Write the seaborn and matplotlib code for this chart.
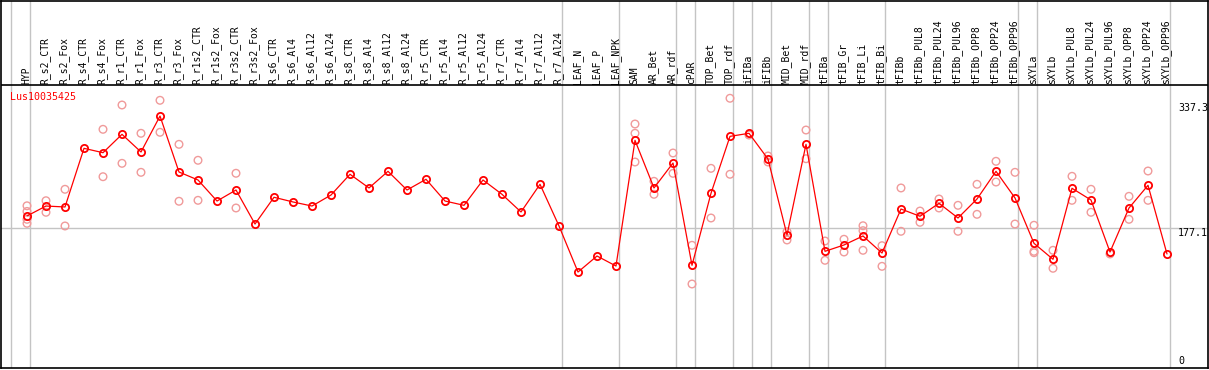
import numpy as np
import pandas as pd
import matplotlib
matplotlib.use("Agg")
import matplotlib.pyplot as plt
import seaborn as sns

gene = "Lus10035425"

samples = [
    "HYP", "R_s2_CTR", "R_s2_Fox", "R_s4_CTR", "R_s4_Fox", "R_r1_CTR", "R_r1_Fox",
    "R_r3_CTR", "R_r3_Fox", "R_r1s2_CTR", "R_r1s2_Fox", "R_r3s2_CTR", "R_r3s2_Fox",
    "R_s6_CTR", "R_s6_Al4", "R_s6_Al12", "R_s6_Al24", "R_s8_CTR", "R_s8_Al4",
    "R_s8_Al12", "R_s8_Al24", "R_r5_CTR", "R_r5_Al4", "R_r5_Al12", "R_r5_Al24",
    "R_r7_CTR", "R_r7_Al4", "R_r7_Al12", "R_r7_Al24", "LEAF_N", "LEAF_P", "LEAF_NPK",
    "SAM", "AR_Bet", "AR_rdf", "cPAR", "TOP_Bet", "TOP_rdf", "iFIBa", "iFIBb",
    "MID_Bet", "MID_rdf", "tFIBa", "tFIB_Gr", "tFIB_Li", "tFIB_Bi", "tFIBb",
    "tFIBb_PUL8", "tFIBb_PUL24", "tFIBb_PUL96", "tFIBb_OPP8", "tFIBb_OPP24",
    "tFIBb_OPP96", "sXYLa", "sXYLb", "sXYLb_PUL8", "sXYLb_PUL24", "sXYLb_PUL96",
    "sXYLb_OPP8", "sXYLb_OPP24", "sXYLb_OPP96",
]

means = [
    192.5, 205.2, 204.0, 279.0, 273.4, 296.9, 274.3, 320.3, 248.7, 238.5, 211.6,
    225.7, 182.2, 216.4, 210.4, 205.2, 219.3, 245.8, 228.3, 249.6, 225.7, 239.4,
    211.6, 206.1, 238.5, 220.2, 197.6, 233.0, 179.7, 120.8, 141.3, 128.5, 289.2,
    228.3, 260.2, 129.4, 221.5, 294.3, 298.2, 265.3, 168.2, 284.1, 147.3, 155.4,
    166.9, 145.1, 201.4, 192.1, 208.7, 189.9, 214.2, 249.6, 215.5, 157.5, 137.1,
    227.9, 212.9, 146.4, 202.7, 231.7, 143.9,
]

replicates = [
    [205.5, 198.3, 188.2, 183.1], [212.0, 197.2], [226.6, 179.7], [], [303.3, 242.7],
    [334.4, 259.8], [298.2, 248.3], [340.4, 299.5], [284.1, 211.3], [263.7, 212.5],
    [], [247.1, 202.7], [], [], [], [], [], [], [], [], [], [], [], [], [], [], [],
    [], [], [], [], [], [310.1, 298.2, 261.5], [236.8, 220.2], [273.0, 247.0],
    [155.0, 105.5], [253.4, 189.9], [343.0, 245.8], [296.0], [269.2, 261.5],
    [172.4, 161.8], [302.4, 265.7], [160.5, 135.8], [162.7, 146.4],
    [180.0, 173.7, 148.6], [154.5, 128.1], [228.3, 172.9], [198.8, 184.4],
    [214.2, 202.7], [206.1, 172.9], [233.0, 194.6], [262.4, 235.9], [248.3, 182.2],
    [180.6, 147.3, 145.5], [148.6, 125.6], [243.2, 212.5], [226.6, 197.2], [143.9],
    [217.6, 188.2], [250.0, 212.5], [],
]

# number of samples preceding each grey separator line
group_breaks = [0, 1, 29, 32, 35, 36, 38, 39, 40, 42, 43, 46, 53, 54, 61]
ytick_values = [0, 177.1, 337.3]
ytick_labels = ["0", "177.1", "337.3"]

mean_df = pd.DataFrame({"idx": np.arange(len(samples)), "value": means})
rep_idx, rep_val = [], []
for i, reps in enumerate(replicates):
    for v in reps:
        rep_idx.append(i)
        rep_val.append(v)
rep_df = pd.DataFrame({"idx": rep_idx, "value": rep_val})

sns.set_theme(style="white")
plt.rcParams["font.family"] = ["DejaVu Sans Mono"]

W, H = 1209, 370
fig = plt.figure(figsize=(W / 100, H / 100), dpi=100)
ax = fig.add_axes([1 / W, (H - 368) / H, (1208 - 1) / W, (368 - 0.5) / H])

x0px, dxpx = 27.0, 19.0
y0px, kpx = 366.5, 0.782


def px2x(px):
    return (px - x0px) / dxpx


def px2y(py):
    return (y0px - py) / kpx


ax.set_xlim(px2x(1), px2x(1208))
ax.set_ylim(px2y(368), px2y(0.5))

grey = "#c4c4c4"
for b in group_breaks:
    ax.axvline(b - 0.83, color=grey, lw=1.0, zorder=1)
ax.axhline(177.1, color=grey, lw=1.0, zorder=1)
ax.axhline(px2y(85), color="black", lw=1.2, zorder=2)

sns.scatterplot(data=rep_df, x="idx", y="value", ax=ax, s=30, marker="o",
                facecolors="none", edgecolor="#f09a9a", linewidth=1.0, zorder=3,
                legend=False)
sns.lineplot(data=mean_df, x="idx", y="value", ax=ax, color="#ff0000", lw=0.9,
             marker="o", markersize=5.2, markerfacecolor="none",
             markeredgecolor="#ff0000", markeredgewidth=1.3, zorder=4, legend=False)

for i, s in enumerate(samples):
    ax.text(i - 0.05, px2y(83.5), s, rotation=90, ha="center", va="bottom",
            fontsize=7, color="black")

for v, lab in zip(ytick_values, ytick_labels):
    ax.text(px2x(1178), v, lab, ha="left", va="bottom" if v == 0 else "top",
            fontsize=7.2, color="black")

ax.text(px2x(9.5), px2y(97), gene, ha="left", va="center", fontsize=7.2,
        color="#ff0000")

ax.set_xticks([])
ax.set_yticks([])
ax.set_xlabel("")
ax.set_ylabel("")
for sp in ax.spines.values():
    sp.set_color("black")
    sp.set_linewidth(1.2)

fig.savefig("out.png", dpi=100)
